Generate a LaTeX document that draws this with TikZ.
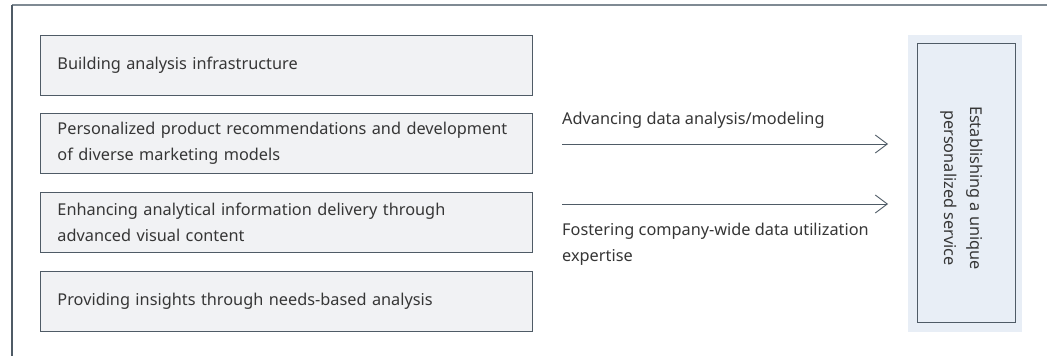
\documentclass[tikz,border=0pt]{standalone}
\usepackage{fontspec}
\setmainfont{Noto Sans}
\usetikzlibrary{arrows.meta}
\definecolor{boxfill}{HTML}{F1F2F4}
\definecolor{boxline}{HTML}{4F5B66}
\definecolor{bluefill}{HTML}{E8EEF6}
\definecolor{frameline}{HTML}{7F8A93}
\definecolor{txt}{HTML}{363636}
\begin{document}
\begin{tikzpicture}[x=1pt,y=-1pt,
  every node/.style={font=\fontsize{16.3}{26}\selectfont,text=txt},
  itembox/.style={draw=boxline,line width=0.9pt,fill=boxfill,anchor=north west,
    minimum width=492pt,minimum height=60pt,text width=458pt,align=left,
    inner xsep=17pt,inner ysep=0pt},
  flow/.style={draw=boxline,line width=0.9pt,-{Straight Barb[length=12pt,width=18pt,line width=0.9pt]}},
  lbl/.style={anchor=west,inner sep=0pt,align=left}]
\useasboundingbox (0,0) rectangle (1047,356);
\fill[white] (0,0) rectangle (1047,356);
% outer frame
\draw[frameline,line width=1.2pt] (1047,5) -- (12,5);
\draw[boxline,line width=1.2pt] (12,5) -- (12,357);
% left boxes
\node[itembox] (b1) at (40,35) {Building analysis infrastructure};
\node[itembox] (b2) at (40,113) {Personalized product recommendations and development\\of diverse marketing models};
\node[itembox] (b3) at (40,192) {Enhancing analytical information delivery through\\advanced visual content};
\node[itembox] (b4) at (40,271) {Providing insights through needs-based analysis};
% right box
\node[fill=bluefill,anchor=north west,minimum width=114pt,minimum height=297pt,inner sep=0pt] (rb) at (908,35) {};
\node[draw=boxline,line width=0.9pt,fill=bluefill,anchor=north west,minimum width=98pt,minimum height=279pt,inner sep=0pt] (ri) at (917,43) {};
\node[rotate=-90,align=center,inner sep=0pt] (rt) at (962,188) {Establishing a unique\\personalized service};
% arrows
\coordinate (a1s) at (562,144);
\coordinate (a1e) at (888,144);
\coordinate (a2s) at (562,204);
\coordinate (a2e) at (888,204);
\draw[flow] (a1s) -- (a1e);
\draw[flow] (a2s) -- (a2e);
\node[lbl] (l1) at (562,120) {Advancing data analysis/modeling};
\node[lbl] (l2) at (562,244) {Fostering company-wide data utilization\\expertise};
\end{tikzpicture}
\end{document}
